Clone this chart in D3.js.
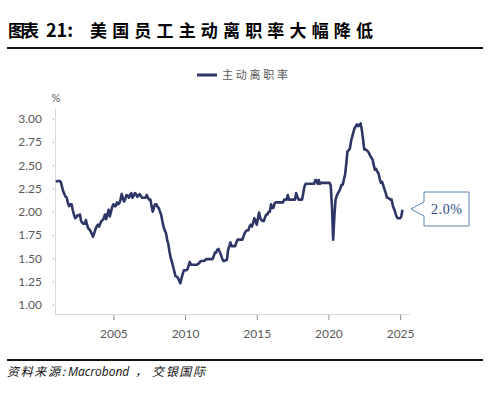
<!DOCTYPE html>
<html>
<head>
<meta charset="utf-8">
<script src="https://cdn.jsdelivr.net/npm/d3@7"></script>
<style>
  body { margin: 0; background: #fff; }
  svg { display: block; }
</style>
</head>
<body>
<div id="chart"></div>
<script>
// monthly quits rate (%), Jan 2001 .. Mar 2025, one row per year
var startYear = 2001;
var quitsRate = [
  2.32,2.33,2.33,2.33,2.32,2.27,2.22,2.19,2.16,2.15,2.09,2.06, // 2001
  2.08,2.08,2.02,1.97,1.93,1.94,1.96,1.96,1.97,1.90,1.88,1.87, // 2002
  1.87,1.91,1.86,1.82,1.81,1.79,1.76,1.73,1.77,1.81,1.84,1.86, // 2003
  1.84,1.87,1.90,1.91,1.93,1.97,1.92,1.97,2.02,1.95,2.00,2.05, // 2004
  2.08,2.06,2.06,2.10,2.08,2.09,2.13,2.19,2.14,2.11,2.14,2.18, // 2005
  2.17,2.15,2.18,2.20,2.15,2.17,2.20,2.19,2.16,2.17,2.19,2.17, // 2006
  2.15,2.15,2.15,2.15,2.18,2.15,2.13,2.13,2.06,2.00,2.05,2.08, // 2007
  2.08,2.05,2.04,2.00,1.97,1.90,1.84,1.80,1.77,1.70,1.65,1.57, // 2008
  1.50,1.46,1.41,1.36,1.31,1.30,1.29,1.26,1.23,1.28,1.33,1.37, // 2009
  1.37,1.37,1.38,1.42,1.46,1.43,1.43,1.43,1.43,1.43,1.43,1.44, // 2010
  1.45,1.47,1.47,1.47,1.47,1.48,1.49,1.49,1.49,1.49,1.49,1.49, // 2011
  1.52,1.56,1.56,1.59,1.60,1.57,1.54,1.50,1.47,1.47,1.48,1.48, // 2012
  1.59,1.63,1.67,1.63,1.63,1.63,1.63,1.67,1.70,1.70,1.70,1.70, // 2013
  1.70,1.74,1.77,1.79,1.80,1.80,1.84,1.86,1.84,1.88,1.93,1.90, // 2014
  1.86,1.93,1.99,1.93,1.91,1.90,1.90,1.94,1.97,1.97,2.00,2.00, // 2015
  2.08,2.04,2.04,2.09,2.10,2.10,2.10,2.10,2.10,2.10,2.10,2.13, // 2016
  2.13,2.13,2.18,2.13,2.13,2.13,2.13,2.13,2.13,2.20,2.16,2.13, // 2017
  2.13,2.13,2.13,2.20,2.27,2.30,2.30,2.30,2.30,2.30,2.30,2.30, // 2018
  2.30,2.34,2.34,2.30,2.34,2.30,2.31,2.31,2.31,2.31,2.31,2.31, // 2019
  2.31,2.31,2.28,2.05,1.70,1.95,2.13,2.17,2.20,2.22,2.25,2.29, // 2020
  2.29,2.35,2.40,2.52,2.65,2.66,2.68,2.76,2.81,2.86,2.90,2.92, // 2021
  2.94,2.92,2.93,2.95,2.88,2.78,2.67,2.67,2.66,2.65,2.63,2.60, // 2022
  2.58,2.56,2.50,2.45,2.46,2.43,2.41,2.35,2.31,2.32,2.28,2.24, // 2023
  2.20,2.15,2.15,2.14,2.13,2.13,2.06,2.03,1.99,1.95,1.93,1.93, // 2024
  1.93,1.95,2.02                                               // 2025
];
var yTicks = [1.00, 1.25, 1.50, 1.75, 2.00, 2.25, 2.50, 2.75, 3.00];
var xTickYears = [2005, 2010, 2015, 2020, 2025];
var titleParts = ["图表", "21:", "美国员工主动离职率大幅降低"];
var legendLabel = "主动离职率";
var unitLabel = "%";
var calloutLabel = "2.0%";
var sourceParts = ["资料来源:", "Macrobond", "，", "交银国际"];

var width = 488, height = 394;
var lineColour = "#2e3567";
var textColour = "#595959";
var cjk = "'Noto Sans CJK SC', sans-serif";

var svg = d3.select("#chart").append("svg")
   .attr("width", width).attr("height", height);

var data = quitsRate.map(function (v, i) {
   return { date: new Date(startYear + Math.floor(i / 12), i % 12, 1), value: v };
});

var x = d3.scaleTime()
   .domain([new Date(2000, 11, 5), new Date(2025, 8, 10)])
   .range([55, 410]);
var y = d3.scaleLinear().domain([0.9, 3.1]).range([314, 109.4]);

// title + rule
var title = svg.append("text").attr("y", 37)
   .style("font-family", cjk)
   .style("font-weight", "bold").style("font-size", "17px").attr("fill", "#000");
title.append("tspan").attr("x", 8).attr("textLength", 31).attr("lengthAdjust", "spacing").text(titleParts[0]);
title.append("tspan").attr("x", 46).style("font-size", "18px").text(titleParts[1]);
title.append("tspan").attr("x", 90).attr("textLength", 283).attr("lengthAdjust", "spacing").text(titleParts[2]);
svg.append("rect").attr("x", 7).attr("y", 47).attr("width", 476).attr("height", 2).attr("fill", "#111");

// legend
svg.append("line").attr("x1", 197).attr("x2", 217).attr("y1", 75).attr("y2", 75)
   .attr("stroke", lineColour).attr("stroke-width", 3);
svg.append("text").text(legendLabel).attr("x", 222).attr("y", 79)
   .attr("textLength", 66).attr("lengthAdjust", "spacing")
   .style("font-family", cjk).style("font-size", "11px")
   .attr("fill", textColour);

// unit
svg.append("text").text(unitLabel).attr("x", 56).attr("y", 102).attr("text-anchor", "middle")
   .style("font-family", "Lato, sans-serif").style("font-size", "11px").attr("fill", textColour);

// y axis
var yAxis = svg.append("g").attr("transform", "translate(54,0)")
   .call(d3.axisLeft(y).tickValues(yTicks).tickFormat(d3.format(".2f")).tickSize(6).tickPadding(6));
yAxis.select(".domain").remove();
yAxis.selectAll(".tick line").attr("stroke", "#8c8c8c").attr("x2", -1);
yAxis.selectAll("text").attr("fill", textColour)
   .style("font-family", "Lato, sans-serif").style("font-size", "12px");
svg.append("line").attr("x1", 55.5).attr("x2", 55.5).attr("y1", 109).attr("y2", 314)
   .attr("stroke", "#d9d9d9");

// x axis
var xAxis = svg.append("g").attr("transform", "translate(0,315)")
   .call(d3.axisBottom(x)
      .tickValues(xTickYears.map(function (yr) { return new Date(yr, 0, 1); }))
      .tickFormat(d3.timeFormat("%Y")).tickSize(5).tickPadding(9));
xAxis.select(".domain").remove();
xAxis.selectAll(".tick line").attr("stroke", "#8c8c8c");
xAxis.selectAll("text").attr("fill", textColour)
   .style("font-family", "Lato, sans-serif").style("font-size", "12px");
svg.append("line").attr("x1", 55).attr("x2", 410).attr("y1", 314.5).attr("y2", 314.5)
   .attr("stroke", "#d9d9d9");

// series line
var line = d3.line().x(function (d) { return x(d.date); }).y(function (d) { return y(d.value); });
svg.append("path").datum(data).attr("d", line)
   .attr("fill", "none").attr("stroke", lineColour).attr("stroke-width", 2.6)
   .attr("stroke-linejoin", "round");

// callout
var cx = 424, cy = 192, cw = 45, ch = 34;
svg.append("path")
   .attr("d", "M" + cx + "," + cy + "H" + (cx + cw) + "V" + (cy + ch) + "H" + cx +
              "V216L411,209L" + cx + ",202Z")
   .attr("fill", "#fff").attr("stroke", "#5b84b1").attr("stroke-width", 1);
svg.append("text").text(calloutLabel).attr("x", cx + cw / 2).attr("y", 214)
   .attr("text-anchor", "middle").attr("textLength", 31).attr("lengthAdjust", "spacing")
   .style("font-family", "'Liberation Serif', serif").style("font-size", "14px")
   .attr("fill", "#2f4e85");

// bottom rule + source
svg.append("rect").attr("x", 7).attr("y", 359).attr("width", 476).attr("height", 2).attr("fill", "#111");
var src = svg.append("text").attr("y", 376)
   .style("font-family", cjk).style("font-style", "italic")
   .style("font-size", "12px").attr("fill", "#111");
src.append("tspan").attr("x", 7).attr("textLength", 58).attr("lengthAdjust", "spacing").text(sourceParts[0]);
src.append("tspan").attr("x", 68).style("font-family", "'Open Sans', sans-serif").text(sourceParts[1]);
src.append("tspan").attr("x", 135).text(sourceParts[2]);
src.append("tspan").attr("x", 152).attr("textLength", 53).attr("lengthAdjust", "spacing").text(sourceParts[3]);
</script>
</body>
</html>
